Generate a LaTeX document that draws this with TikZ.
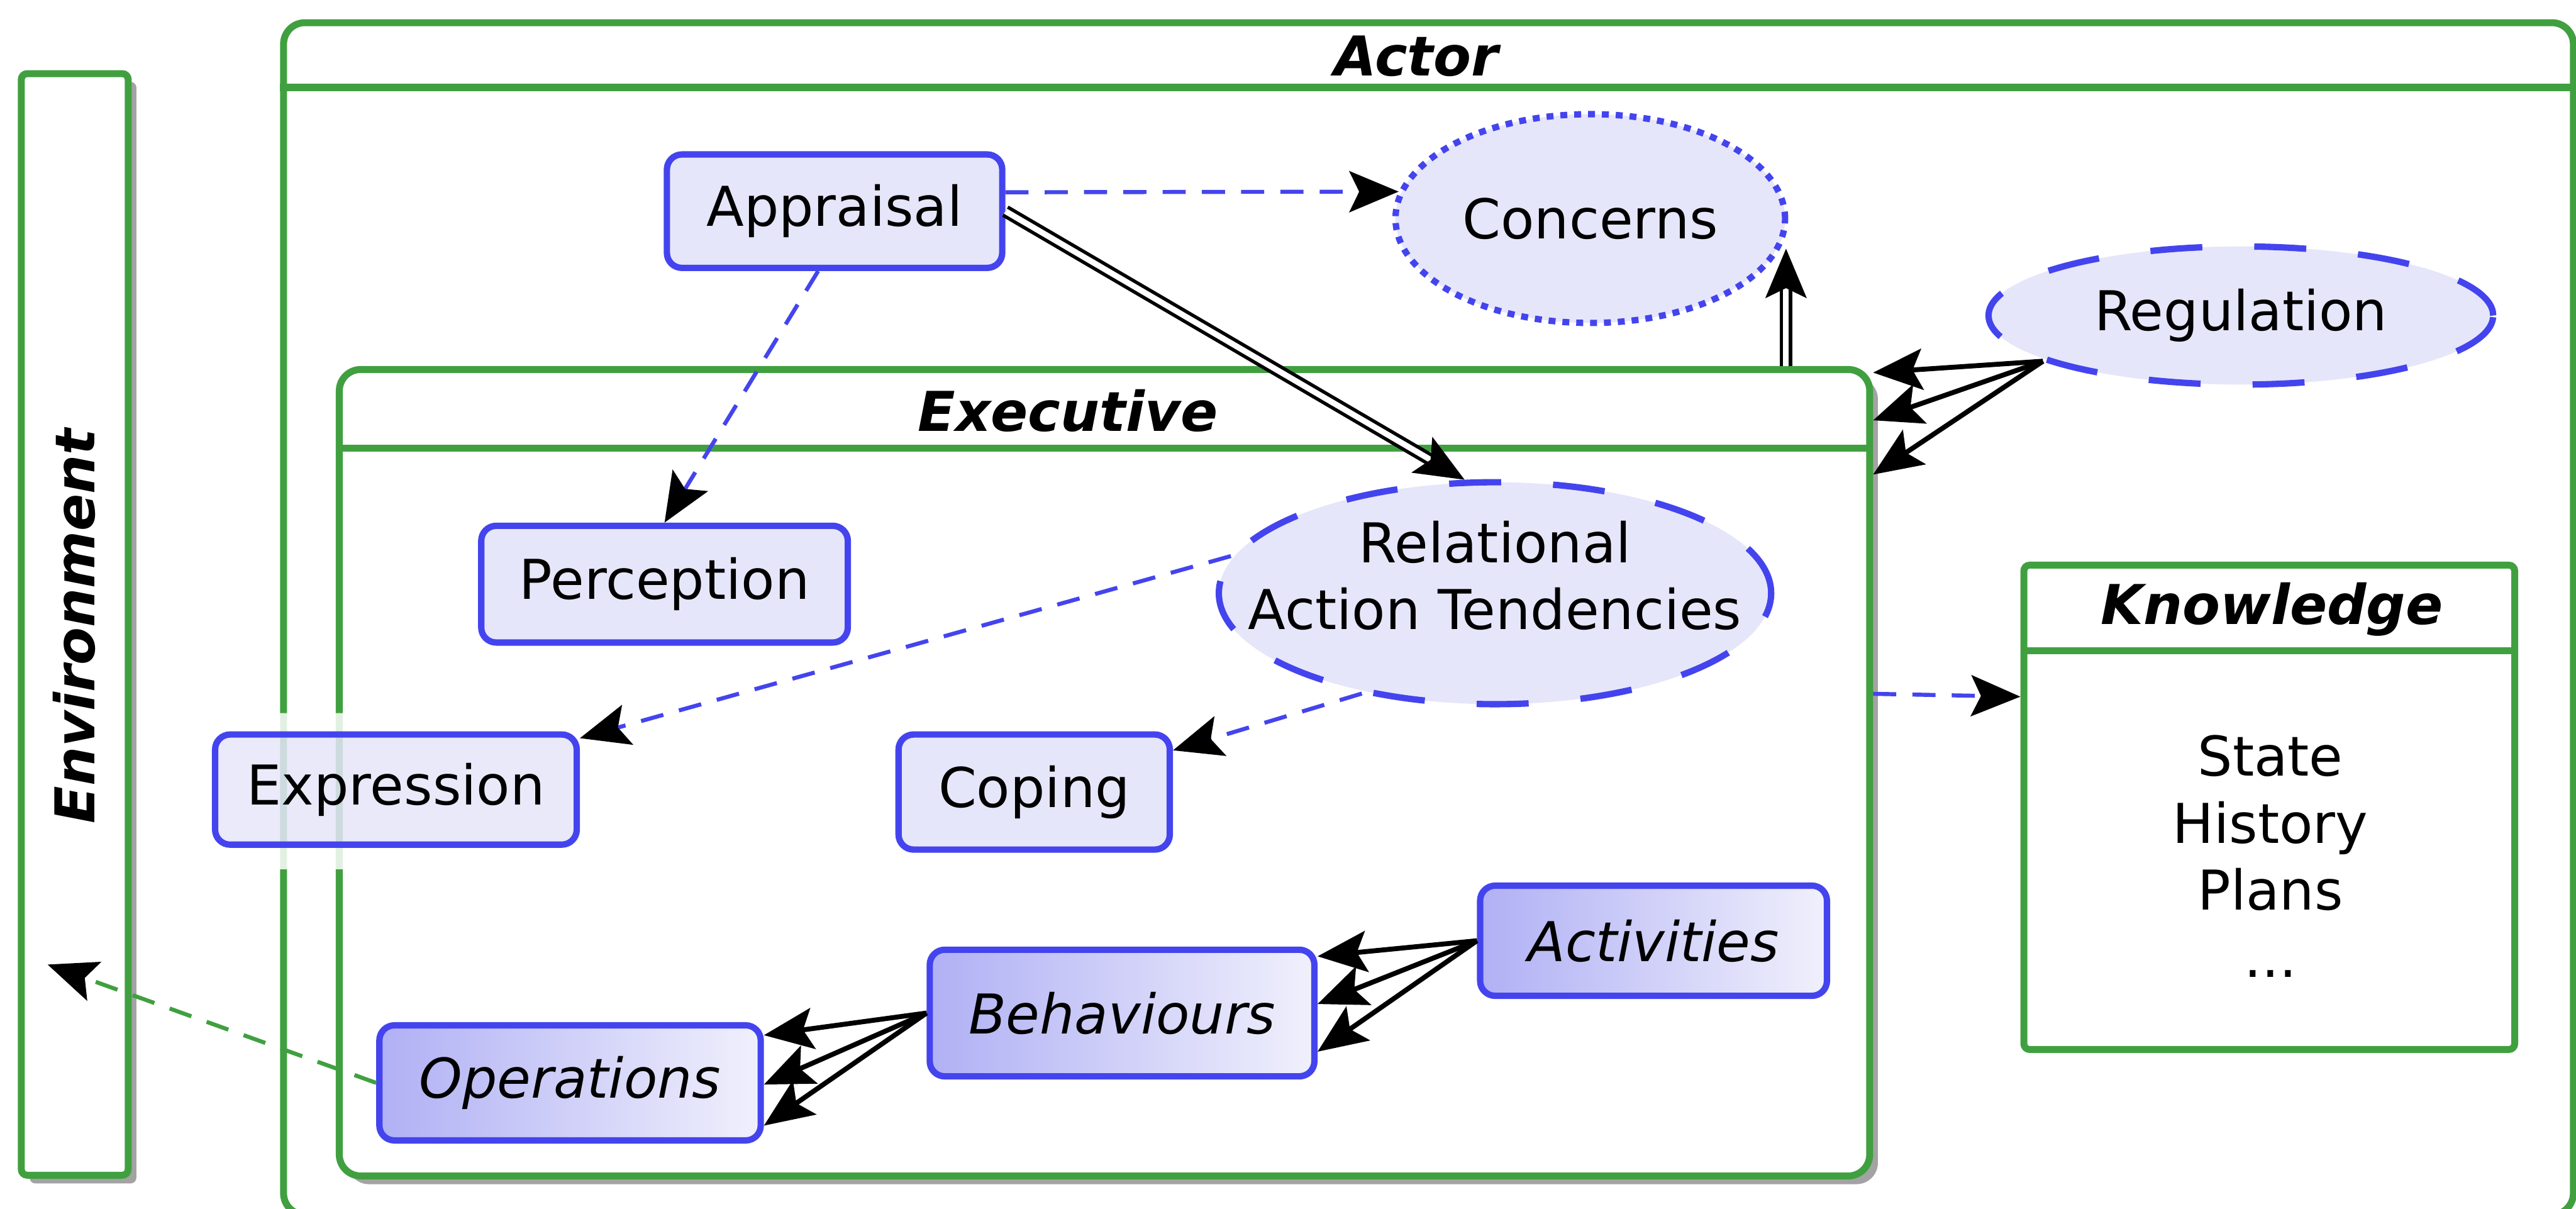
\documentclass[tikz,border=0pt]{standalone}
\usepackage{fontspec}
\setmainfont{DejaVu Sans}
\usetikzlibrary{arrows.meta,shapes.geometric,shadows}

\definecolor{framegreen}{RGB}{64,160,64}
\definecolor{boxblue}{RGB}{68,68,238}
\definecolor{boxfill}{RGB}{230,230,250}
\definecolor{gradleft}{RGB}{176,176,245}
\definecolor{gradright}{RGB}{240,240,252}

\newcommand{\nodefont}{\fontsize{9.5}{11.6}\selectfont}

\tikzset{
  every node/.append style={font=\nodefont},
  frame/.style={draw=framegreen, line width=1.2pt, fill=white, rounded corners=3.7pt},
  shadowed/.style={drop shadow={shadow xshift=0.05cm, shadow yshift=-0.05cm, fill=black!45, opacity=0.8}},
  sep/.style={draw=framegreen, line width=1.2pt},
  title/.style={font=\nodefont\bfseries\itshape},
  proc/.style={draw=boxblue, line width=1.1pt, fill=boxfill, rounded corners=2.6pt},
  graded/.style={proc, left color=gradleft, right color=gradright, font=\nodefont\itshape},
  blob/.style={ellipse, draw=boxblue, line width=1.1pt, fill=boxfill, inner sep=0pt},
  tip/.style={-{Stealth[length=3mm, width=2.5mm, inset=0.6mm, color=black]}},
  flow/.style={tip, draw=boxblue, line width=0.7pt, dash pattern=on 4pt off 2.8pt},
  link/.style={tip, line width=0.85pt},
  dbl/.style={tip, double, line width=0.6pt, double distance=1pt},
}

\begin{document}
\begin{tikzpicture}[x=0.01cm, y=-0.01cm]
        \useasboundingbox (0,0) rectangle (1568,735.5);

        \node[frame, minimum width=13.93cm, minimum height=7.25cm] (actor) at (869.5,376.5) {};
        \node[title] (actorT) at (862,34) {Actor};
        \draw[sep] ([yshift=-0.415cm]actor.north west) -- ([yshift=-0.415cm]actor.north east);

        \node[frame, shadowed, rounded corners=1pt, minimum width=0.65cm, minimum height=6.7cm] (env) at (45.5,380) {};
        \node[title, rotate=90] (envT) at (45,381) {Environment};

        \node[frame, shadowed, minimum width=9.31cm, minimum height=4.905cm] (exec) at (672.3,470.25) {};
        \node[title] (execT) at (650,250) {Executive};
        \draw[sep] ([yshift=-0.5cm]exec.north west) -- ([yshift=-0.5cm]exec.north east);

        \node[frame, rounded corners=1pt, minimum width=2.986cm, minimum height=2.946cm] (know) at (1381.3,491.3) {};
        \node[title] (knowT) at (1383,371) {Knowledge};
        \draw[sep] ([yshift=-0.54cm]know.north west) -- ([yshift=-0.54cm]know.north east);
        \node[align=center] (knowB) at (1382,521) {State\\History\\Plans\\...};

        \fill[white, opacity=0.85, even odd rule] (118,434) rectangle (364,529) (131,447) rectangle (351,514);

        \node[proc, minimum width=2.04cm, minimum height=0.69cm] (apr) at (508,128.5) {Appraisal};
        \node[proc, minimum width=2.23cm, minimum height=0.71cm] (perc) at (404.5,355.5) {Perception};
        \node[proc, fill opacity=0.85, text opacity=1, minimum width=2.2cm, minimum height=0.67cm] (expr) at (241,480.5) {Expression};
        \node[proc, minimum width=1.65cm, minimum height=0.70cm] (cop) at (629.5,482) {Coping};
        \node[graded, minimum width=2.11cm, minimum height=0.67cm] (act) at (1006.5,572.5) {Activities};
        \node[graded, minimum width=2.34cm, minimum height=0.77cm] (beh) at (683,616.5) {Behaviours};
        \node[graded, minimum width=2.32cm, minimum height=0.70cm] (ops) at (347,659) {Operations};

        \node[blob, dash pattern=on 1.2pt off 1.2pt, minimum width=2.37cm, minimum height=1.27cm] (con) at (968,133) {Concerns};
        \node[blob, dash pattern=on 9pt off 9pt, minimum width=3.07cm, minimum height=0.84cm] (reg) at (1364,192) {Regulation};
        \node[blob, dash pattern=on 9pt off 9pt, inner xsep=-0.4cm, text depth=0.22cm, align=center, minimum width=3.36cm, minimum height=1.35cm] (rat) at (910,361) {Relational\\Action Tendencies};

        \draw[flow] ([yshift=0.115cm]apr.east) -- (con.172);
        \draw[dbl] (apr.east) -- (rat.105);
        \draw[flow] ([xshift=-0.1cm]apr.south) -- (perc.north);
        \coordinate (exC) at ([xshift=-0.53cm]exec.north east);
        \draw[dbl] (exC) -- (exC |- con.-9);

        \draw[link] (reg.193) -- ([yshift=-0.04cm]exec.north east);
        \draw[link] (reg.193) -- ([yshift=-0.33cm]exec.north east);
        \draw[link] (reg.193) -- ([yshift=-0.66cm]exec.north east);

        \draw[flow] (rat.172) -- (expr);
        \draw[flow] (rat.217) -- (cop);
        \draw[flow] ([yshift=0.48cm]exec.east) -- ([yshift=0.673cm]know.west);

        \draw[link] (act.west) -- ([yshift=0.345cm]beh.east);
        \draw[link] (act.west) -- ([yshift=0.055cm]beh.east);
        \draw[link] (act.west) -- ([yshift=-0.235cm]beh.east);

        \draw[link] (beh.west) -- ([yshift=0.29cm]ops.east);
        \draw[link] (beh.west) -- ([yshift=-0.01cm]ops.east);
        \draw[link] (beh.west) -- ([yshift=-0.26cm]ops.east);

        \coordinate (envIn) at (29,587);
        \draw[flow, draw=framegreen] (ops.west) -- (envIn);
    \end{tikzpicture}
\end{document}
